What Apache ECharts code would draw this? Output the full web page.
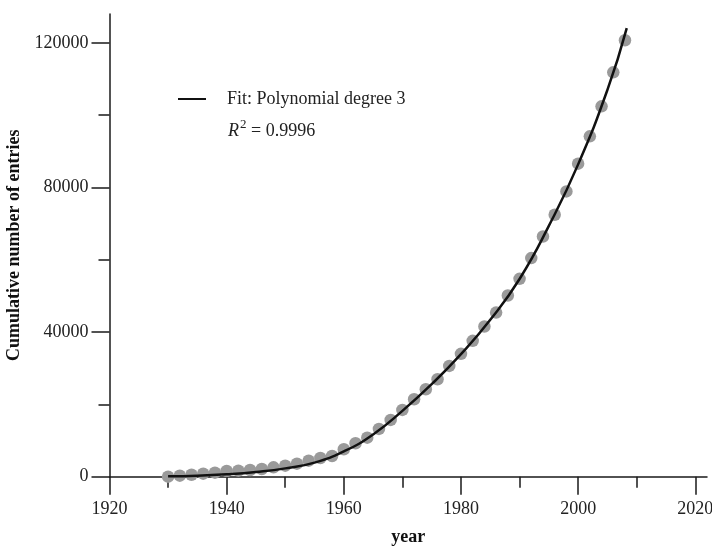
<!DOCTYPE html>
<html>
<head>
<meta charset="utf-8">
<script src="https://cdn.jsdelivr.net/npm/echarts@6/dist/echarts.min.js"></script>
<style>html,body{margin:0;padding:0;background:#fff}#c{width:712px;height:547px}</style>
</head>
<body>
<div id="c"></div>
<script>
// Observed data (cumulative entries, every 2 years)
var years = [1930,1932,1934,1936,1938,1940,1942,1944,1946,1948,1950,1952,1954,1956,1958,1960,1962,1964,1966,1968,1970,1972,1974,1976,1978,1980,1982,1984,1986,1988,1990,1992,1994,1996,1998,2000,2002,2004,2006,2008];
var entries = [0,280,550,830,1110,1580,1660,1860,2130,2600,3050,3600,4430,5180,5730,7590,9250,10800,13210,15700,18470,21430,24200,26970,30650,33980,37580,41540,45410,50120,54740,60470,66460,72460,78920,86590,94150,102450,111870,120730];
// Fitted curve samples
var fitYears = [1930,1935,1940,1945,1950,1955,1960,1965,1970,1975,1980,1985,1990,1995,2000,2005,2008.3];
var fitValues = [100,250,650,1300,2300,3900,7000,11700,18200,25600,33900,43400,54700,69400,86400,107000,124100];
// Tick labels
var xMajor = [1920,1940,1960,1980,2000,2020];
var xMinor = [1930,1950,1970,1990,2010];
var yMajor = [0,40000,80000,120000];
var yMinor = [20000,60000,100000];
var fitName = 'Fit: Polynomial degree 3';

var FONT = 'Liberation Serif';
var AX = '#1a1a1a';

var scatterData = years.map(function(y,i){return [y, entries[i]];});
var fitData = fitYears.map(function(y,i){return [y, fitValues[i]];});

var baseX = {type:'value', min:1920, max:2022, position:'bottom', splitLine:{show:false}};
var baseY = {type:'value', min:0, max:128000, position:'left', splitLine:{show:false}};

var chart = echarts.init(document.getElementById('c'), null, {renderer:'canvas'});
chart.setOption({
  animation:false,
  backgroundColor:'#fff',
  grid:{left:109.5, right:5, top:14, bottom:70.3, containLabel:false, outerBoundsMode:'none'},
  xAxis:[
    Object.assign({}, baseX, {
      name:'year', nameLocation:'middle', nameGap:52,
      nameTextStyle:{fontFamily:FONT, fontSize:18, fontWeight:'bold', color:'#111'},
      axisLine:{show:true, onZero:false, lineStyle:{color:AX, width:1.5}},
      axisTick:{show:true, inside:false, length:18, lineStyle:{color:AX, width:1.5}, customValues:xMajor},
      axisLabel:{show:true, margin:24, fontFamily:FONT, fontSize:18, color:'#222', customValues:xMajor, formatter:function(v){return String(v);}}
    }),
    Object.assign({}, baseX, {
      axisLine:{show:false},
      axisTick:{show:true, inside:false, length:11, lineStyle:{color:AX, width:1.5}, customValues:xMinor},
      axisLabel:{show:false}
    })
  ],
  yAxis:[
    Object.assign({}, baseY, {
      name:'Cumulative number of entries', nameLocation:'middle', nameGap:78, nameRotate:90,
      nameTextStyle:{fontFamily:FONT, fontSize:18, fontWeight:'bold', color:'#111'},
      axisLine:{show:true, onZero:false, lineStyle:{color:AX, width:1.5}},
      axisTick:{show:true, inside:false, length:18, lineStyle:{color:AX, width:1.5}, customValues:yMajor},
      axisLabel:{show:true, margin:21, fontFamily:FONT, fontSize:18, color:'#222', customValues:yMajor, formatter:function(v){return String(v);}}
    }),
    Object.assign({}, baseY, {
      axisLine:{show:false},
      axisTick:{show:true, inside:false, length:11, lineStyle:{color:AX, width:1.5}, customValues:yMinor},
      axisLabel:{show:false}
    })
  ],
  legend:{
    show:true, left:173, top:85, orient:'vertical', itemWidth:28, itemHeight:2,
    data:[{name:fitName, icon:'rect', itemStyle:{color:'#111', borderWidth:0}}],
    textStyle:{fontFamily:FONT, fontSize:18, color:'#222', padding:[0,0,0,16]}
  },
  graphic:[{
    type:'text', left:228, top:118,
    style:{
      text:'{i|R}{s|2}{n| = 0.9996}',
      fill:'#222',
      rich:{
        i:{fontFamily:FONT, fontSize:18, fontStyle:'italic', fill:'#222', lineHeight:22, verticalAlign:'bottom'},
        s:{fontFamily:FONT, fontSize:13, fill:'#222', lineHeight:22, verticalAlign:'top', padding:[0,0,10,1]},
        n:{fontFamily:FONT, fontSize:18, fill:'#222', lineHeight:22, verticalAlign:'bottom'}
      }
    }
  }],
  series:[
    {
      name:'Observed', type:'scatter', xAxisIndex:0, yAxisIndex:0,
      data:scatterData, symbol:'circle', symbolSize:12.5,
      itemStyle:{color:'#9a9a9a', opacity:1}, z:2
    },
    {
      name:fitName, type:'line', xAxisIndex:0, yAxisIndex:0,
      data:fitData, smooth:0.5, showSymbol:false, symbol:'none',
      lineStyle:{color:'#111', width:2.5}, itemStyle:{color:'#111'}, z:3
    }
  ]
});
</script>
</body>
</html>
